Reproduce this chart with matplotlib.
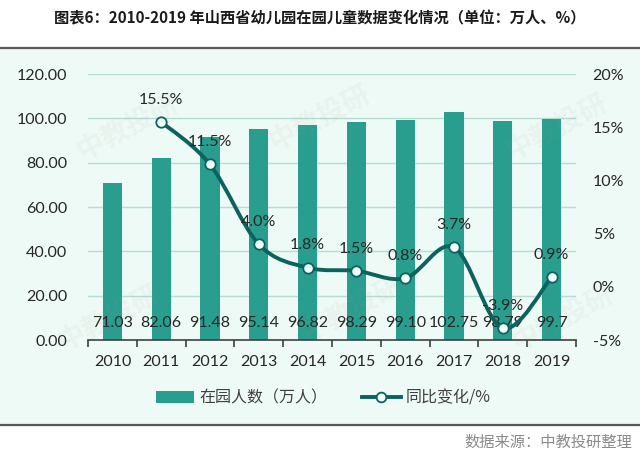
import matplotlib.pyplot as plt
from matplotlib.patches import Rectangle, PathPatch, Patch
from matplotlib.lines import Line2D
from matplotlib.path import Path

plt.rcParams['font.family'] = ['Lato', 'Noto Sans CJK SC', 'DejaVu Sans']

years = ['2010', '2011', '2012', '2013', '2014', '2015', '2016', '2017', '2018', '2019']
enrolled = [71.03, 82.06, 91.48, 95.14, 96.82, 98.29, 99.10, 102.75, 98.79, 99.7]
enrolled_labels = ['71.03', '82.06', '91.48', '95.14', '96.82', '98.29', '99.10', '102.75', '98.79', '99.7']
pct_years = years[1:]
pct = [15.5, 11.5, 4.0, 1.8, 1.5, 0.8, 3.7, -3.9, 0.9]
left_ticks = [0, 20, 40, 60, 80, 100, 120]
right_ticks = [-5, 0, 5, 10, 15, 20]

bar_color = '#2a9e8e'
line_color = '#0b625e'
bg_color = '#eefaf5'
grid_color = '#b5ddd3'
txt = '#262626'

fig = plt.figure(figsize=(6.4, 4.54), dpi=100)
fig.patch.set_facecolor('white')

# panel background and the two rules
fig.patches.append(Rectangle((0, 1 - 425 / 454), 1, 377 / 454, transform=fig.transFigure,
                             facecolor=bg_color, edgecolor='none', zorder=-5))
for yy in (1 - 48 / 454, 1 - 425 / 454):
    fig.add_artist(Line2D([0, 1], [yy, yy], transform=fig.transFigure,
                          color='#5a5a5a', lw=1.6))

fig.text(0.5, 1 - 18 / 454, '图表6：2010-2019 年山西省幼儿园在园儿童数据变化情况（单位：万人、%）',
         ha='center', va='center', fontsize=11, fontweight='bold', color='#1a1a1a',
         family=['Noto Sans CJK SC', 'DejaVu Sans'])
fig.text(0.988, 1 - 442 / 454, '数据来源：中教投研整理', ha='right', va='center',
         fontsize=11, color='#8a8a8a', family=['Noto Sans CJK SC'])

# faint watermarks
for wx, wy in [(0.2, 0.72), (0.17, 0.3), (0.5, 0.74), (0.55, 0.32), (0.87, 0.72), (0.88, 0.3)]:
    fig.text(wx, wy, '中教投研', rotation=28, fontsize=20, fontweight='bold',
             color='#9a9a9a', alpha=0.07, ha='center', va='center',
             family=['Noto Sans CJK SC'], zorder=10)

ax = fig.add_axes([88 / 640, 1 - 340 / 454, (576 - 88) / 640, 266 / 454])
ax.set_facecolor('none')
x = list(range(len(years)))
ax.bar(x, enrolled, width=0.39, color=bar_color, zorder=2)
ax.set_xlim(-0.5, len(years) - 0.5)
ax.set_ylim(0, 120)
ax.set_yticks(left_ticks)
ax.set_yticklabels(['%.2f' % v for v in left_ticks])
ax.grid(axis='y', color=grid_color, lw=1, zorder=0)
ax.set_axisbelow(True)
for s in ['top', 'right', 'left']:
    ax.spines[s].set_visible(False)
ax.spines['bottom'].set_color('#404040')
ax.spines['bottom'].set_linewidth(1.2)
ax.set_xticks(x)
ax.set_xticklabels(years)
ax.set_xticks([i - 0.5 for i in range(len(years) + 1)], minor=True)
ax.tick_params(axis='x', which='major', length=0, pad=11, labelsize=11.5, labelcolor=txt)
ax.tick_params(axis='x', which='minor', length=5, width=1.2, color='#404040')
ax.tick_params(axis='y', length=0, pad=15, labelsize=11.5, labelcolor=txt)

for i, lab in enumerate(enrolled_labels):
    ax.text(i, 7.7, lab, ha='center', va='center', fontsize=11.5, color=txt, zorder=5)

ax2 = ax.twinx()
ax2.set_ylim(-5, 20)
ax2.set_yticks(right_ticks)
ax2.set_yticklabels(['%d%%' % v for v in right_ticks])
ax2.tick_params(axis='y', length=0, pad=12, labelsize=11.5, labelcolor=txt)
for s in ax2.spines.values():
    s.set_visible(False)

# smoothed line (Catmull-Rom as cubic Bezier)
px = [years.index(y) for y in pct_years]
pts = list(zip(px, pct))
verts = [pts[0]]
codes = [Path.MOVETO]
n = len(pts)
for i in range(n - 1):
    p0 = pts[max(i - 1, 0)]
    p1 = pts[i]
    p2 = pts[i + 1]
    p3 = pts[min(i + 2, n - 1)]
    c1 = (p1[0] + (p2[0] - p0[0]) / 6, p1[1] + (p2[1] - p0[1]) / 6)
    c2 = (p2[0] - (p3[0] - p1[0]) / 6, p2[1] - (p3[1] - p1[1]) / 6)
    verts += [c1, c2, p2]
    codes += [Path.CURVE4] * 3
ax2.add_patch(PathPatch(Path(verts, codes), facecolor='none', edgecolor=line_color,
                        lw=2.8, zorder=3, capstyle='round'))
ax2.plot(px, pct, linestyle='none', marker='o', markersize=7.5,
         markerfacecolor='#f2fcf8', markeredgecolor=line_color, markeredgewidth=1.3, zorder=4)
for xi, v in zip(px, pct):
    ax2.annotate('%.1f%%' % v, (xi, v), xytext=(0, 16), textcoords='offset points',
                 ha='center', va='center', fontsize=11.5, color=txt, zorder=5)

handles = [Patch(facecolor=bar_color, edgecolor='none'),
           Line2D([], [], color=line_color, lw=2.8, marker='o', markersize=7,
                  markerfacecolor='#f2fcf8', markeredgecolor=line_color, markeredgewidth=1.3)]
fig.legend(handles, ['在园人数（万人）', '同比变化/%'], loc='center',
           bbox_to_anchor=(0.505, 1 - 398 / 454), ncol=2, frameon=False,
           prop={'family': ['Noto Sans CJK SC'], 'size': 11.5}, labelcolor='#404040',
           handlelength=2.4, handletextpad=0.3, columnspacing=2.2)

fig.savefig('out.png', dpi=100)
